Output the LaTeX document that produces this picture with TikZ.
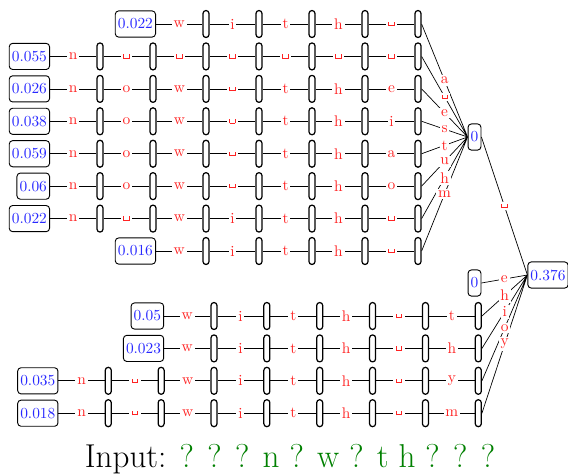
\documentclass[tikz,border=0pt]{standalone}
\usepackage{tikz}
\definecolor{numblue}{RGB}{40,40,255}
\definecolor{labred}{RGB}{255,35,35}
\definecolor{inputgreen}{RGB}{0,128,0}
\newcommand\vs{\mbox{\kern.06em\vrule width.06em height.42ex depth.1em\vrule width.28em height-.04em depth.1em\vrule width.06em height.42ex depth.1em\kern.06em}}
\begin{document}
\begin{tikzpicture}[x=0.65pt,y=-0.65pt,
  num/.style={draw, rounded corners=2.2pt, line width=0.6pt, text=numblue, inner xsep=1.7pt, inner ysep=0pt, minimum height=17pt},
  barnode/.style={draw, rounded corners=1.9pt, line width=0.8pt, minimum width=3.9pt, minimum height=17.5pt, inner sep=0pt},
  lab/.style={text=labred, fill=white, inner sep=1.2pt},
  conn/.style={line width=0.45pt}
]
\useasboundingbox (0,0) rectangle (568,474);
% upper subtree rows
\foreach \r/\kk/\val/\labs in {
  0/1/0.022/{w,i,t,h,\vs},
  1/-1/0.055/{n,\vs,\vs,\vs,\vs,\vs,\vs},
  2/-1/0.026/{n,o,w,\vs,t,h,e},
  3/-1/0.038/{n,o,w,\vs,t,h,i},
  4/-1/0.059/{n,o,w,\vs,t,h,a},
  5/-1/0.06/{n,o,w,\vs,t,h,o},
  6/-1/0.022/{n,\vs,w,i,t,h,\vs},
  7/1/0.016/{w,i,t,h,\vs}}{
  \node[num, anchor=east] (t\r-b\kk) at ({100+53*\kk+3},{24+32.43*\r}) {\val};
  \foreach \l [count=\c] in \labs {
    \pgfmathtruncatemacro\k{\kk+\c}
    \pgfmathtruncatemacro\p{\kk+\c-1}
    \node[barnode] (t\r-b\k) at ({100+53*\k},{24+32.43*\r}) {};
    \draw[conn] (t\r-b\p) -- node[lab]{\l} (t\r-b\k);
  }
}
% lower subtree rows
\foreach \r/\yy/\kk/\val/\labs in {
  1/316/1/0.05/{w,i,t,h,\vs,t},
  2/348.4/1/0.023/{w,i,t,h,\vs,h},
  3/380.8/-1/0.035/{n,\vs,w,i,t,h,\vs,y},
  4/413.2/-1/0.018/{n,\vs,w,i,t,h,\vs,m}}{
  \node[num, anchor=east] (u\r-b\kk) at ({108.28+52.86*\kk+3},\yy) {\val};
  \foreach \l [count=\c] in \labs {
    \pgfmathtruncatemacro\k{\kk+\c}
    \pgfmathtruncatemacro\p{\kk+\c-1}
    \node[barnode] (u\r-b\k) at ({108.28+52.86*\k},\yy) {};
    \draw[conn] (u\r-b\p) -- node[lab]{\l} (u\r-b\k);
  }
}
\node[num] (n0) at (474.5,137) {0};
\node[num] (n0b) at (474.5,283) {0};
\node[num] (root) at (548,275) {0.376};
\draw[conn] foreach \r/\e in {0/a,1/\vs,2/e,3/s,4/t,5/u,6/h,7/m} { (t\r-b6.east) -- node[lab]{\e} (n0.west) };
\draw[conn] (n0.east) -- node[lab]{\vs} (root.west)
  (n0b.east) -- node[lab]{e} (root.west)
  foreach \r/\e in {1/h,2/i,3/o,4/y} { (u\r-b7.east) -- node[lab]{\e} (root.west) };
\node[anchor=base, font=\fontsize{21.5}{26}\selectfont, inner sep=0pt] (inp) at (290,467) {Input: \textcolor{inputgreen}{? ? ? n ? w ? t h ? ? ?}};
\end{tikzpicture}
\end{document}
